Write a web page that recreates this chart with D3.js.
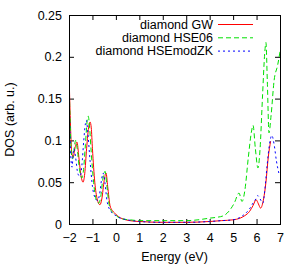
<!DOCTYPE html>
<html lang="en">
  <head>
    <meta charset="UTF-8" />
    <title>diamond DOS</title>
    <style>
      body { margin: 0; background: white; }
      svg text { font-family: "Liberation Sans", Arial, sans-serif; font-size: 12.5px; fill: black; }
      .axis path { display: none; }
      .axis line { stroke: black; }
    </style>
  </head>
  <body>
    <script src="https://d3js.org/d3.v7.min.js"></script>
    <svg id="chart" width="303" height="265"></svg>
    <script>
      // data
      var xTicks = [-2, -1, 0, 1, 2, 3, 4, 5, 6, 7];
      var yTicks = [0, 0.05, 0.1, 0.15, 0.2, 0.25];

      var gwE = [-2, -1.95, -1.88, -1.82, -1.75, -1.66, -1.58, -1.5, -1.4, -1.33, -1.25, -1.15, -1.1, -1.05, -1.0, -0.9, -0.8, -0.68, -0.6, -0.5, -0.42, -0.35, -0.25, -0.15, -0.05, 0.1, 0.3, 0.6, 1, 2, 3, 4, 4.5, 5, 5.3, 5.5, 5.7, 5.85, 5.98, 6.08, 6.17, 6.3, 6.4, 6.5, 6.6];
      var gwDos = [0.184, 0.13, 0.085, 0.08, 0.09, 0.098, 0.08, 0.06, 0.05, 0.06, 0.09, 0.118, 0.122, 0.115, 0.09, 0.05, 0.03, 0.023, 0.03, 0.052, 0.061, 0.045, 0.022, 0.016, 0.013, 0.009, 0.006, 0.004, 0.003, 0.002, 0.002, 0.003, 0.004, 0.005, 0.007, 0.01, 0.015, 0.022, 0.029, 0.024, 0.019, 0.03, 0.05, 0.08, 0.099];

      var hseE = [-2, -1.95, -1.9, -1.85, -1.78, -1.72, -1.65, -1.55, -1.45, -1.38, -1.3, -1.22, -1.18, -1.12, -1.05, -0.95, -0.85, -0.73, -0.65, -0.55, -0.46, -0.4, -0.3, -0.2, -0.05, 0.1, 0.3, 0.6, 1, 2, 3, 3.5, 4, 4.3, 4.6, 4.87, 5.05, 5.25, 5.38, 5.5, 5.65, 5.78, 5.85, 5.95, 6.06, 6.15, 6.25, 6.35, 6.4, 6.46, 6.53, 6.62, 6.75, 6.9, 7];
      var hseDos = [0.175, 0.12, 0.085, 0.078, 0.09, 0.1, 0.09, 0.065, 0.055, 0.065, 0.095, 0.125, 0.129, 0.115, 0.085, 0.05, 0.03, 0.025, 0.032, 0.055, 0.063, 0.05, 0.025, 0.016, 0.012, 0.008, 0.006, 0.005, 0.004, 0.004, 0.004, 0.005, 0.007, 0.008, 0.01, 0.017, 0.025, 0.037, 0.027, 0.04, 0.08, 0.11, 0.118, 0.09, 0.067, 0.09, 0.15, 0.205, 0.217, 0.17, 0.109, 0.13, 0.172, 0.19, 0.206];

      var zkE = [-2, -1.95, -1.9, -1.87, -1.82, -1.78, -1.72, -1.62, -1.53, -1.45, -1.37, -1.3, -1.26, -1.2, -1.1, -1.0, -0.9, -0.78, -0.7, -0.6, -0.54, -0.47, -0.38, -0.28, -0.15, 0, 0.2, 0.5, 1, 2, 3, 4, 4.5, 5, 5.3, 5.5, 5.7, 5.85, 5.97, 6.05, 6.15, 6.27, 6.35, 6.45, 6.55, 6.65, 6.75, 6.85, 6.95];
      var zkDos = [0.165, 0.1, 0.072, 0.068, 0.085, 0.09, 0.08, 0.06, 0.057, 0.07, 0.1, 0.12, 0.124, 0.11, 0.075, 0.045, 0.032, 0.028, 0.035, 0.055, 0.061, 0.05, 0.028, 0.018, 0.013, 0.01, 0.007, 0.005, 0.003, 0.002, 0.002, 0.003, 0.004, 0.005, 0.008, 0.012, 0.018, 0.025, 0.03, 0.034, 0.03, 0.025, 0.04, 0.07, 0.095, 0.106, 0.095, 0.075, 0.061];

      var series = [
        { name: "diamond GW", E: gwE, dos: gwDos, color: "#ff0000", dash: null },
        { name: "diamond HSE06", E: hseE, dos: hseDos, color: "#00e000", dash: "5,3" },
        { name: "diamond HSEmodZK", E: zkE, dos: zkDos, color: "#0000ff", dash: "2,3" },
      ];

      var svg = d3.select("#chart");
      var margin = { top: 15, right: 23, bottom: 41, left: 69 };
      var width = 303 - margin.left - margin.right,
        height = 265 - margin.top - margin.bottom;

      var x = d3.scaleLinear().domain([-2, 7]).range([0, width]);
      var y = d3.scaleLinear().domain([0, 0.25]).range([height, 0]);

      var g = svg.append("g").attr("transform", "translate(" + margin.left + "," + margin.top + ")");

      g.append("clipPath").attr("id", "clip")
        .append("rect").attr("width", width).attr("height", height);

      // axes, ticks pointing inward like gnuplot
      g.append("g").attr("class", "axis")
        .attr("transform", "translate(0," + height + ")")
        .call(d3.axisBottom(x).tickValues(xTicks).tickSizeInner(-5).tickPadding(9).tickFormat(d3.format("d")));
      g.append("g").attr("class", "axis")
        .call(d3.axisTop(x).tickValues(xTicks).tickSizeInner(-5).tickFormat(""));
      g.append("g").attr("class", "axis")
        .call(d3.axisLeft(y).tickValues(yTicks).tickSizeInner(-5).tickPadding(7)
          .tickFormat(function (d) { return d === 0 ? "0" : d3.format("")(+d.toFixed(2)); }));
      g.append("g").attr("class", "axis")
        .attr("transform", "translate(" + width + ",0)")
        .call(d3.axisRight(y).tickValues(yTicks).tickSizeInner(-5).tickFormat(""));

      var line = d3.line()
        .x(function (d) { return x(d[0]); })
        .y(function (d) { return y(d[1]); })
        .curve(d3.curveMonotoneX);

      series.forEach(function (s) {
        g.append("path")
          .datum(d3.zip(s.E, s.dos))
          .attr("clip-path", "url(#clip)")
          .attr("fill", "none")
          .attr("stroke", s.color)
          .attr("stroke-width", 1)
          .attr("stroke-dasharray", s.dash)
          .attr("d", line);
      });

      // border
      g.append("rect")
        .attr("x", 0.5).attr("y", 0.5)
        .attr("width", width).attr("height", height)
        .attr("fill", "none").attr("stroke", "black");

      // legend
      var legend = g.append("g").attr("transform", "translate(0,9)");
      series.forEach(function (s, i) {
        legend.append("text")
          .attr("x", 144).attr("y", i * 13.3 + 4.5)
          .attr("text-anchor", "end")
          .text(s.name);
        legend.append("line")
          .attr("x1", 149).attr("x2", 184)
          .attr("y1", i * 13.3 + 0.5).attr("y2", i * 13.3 + 0.5)
          .attr("stroke", s.color)
          .attr("stroke-dasharray", s.dash);
      });

      // axis titles
      svg.append("text")
        .attr("x", margin.left + width / 2).attr("y", 261)
        .attr("text-anchor", "middle")
        .text("Energy (eV)");
      svg.append("text")
        .attr("transform", "translate(14," + (margin.top + height / 2) + ") rotate(-90)")
        .attr("text-anchor", "middle")
        .text("DOS (arb. u.)");
    </script>
  </body>
</html>
